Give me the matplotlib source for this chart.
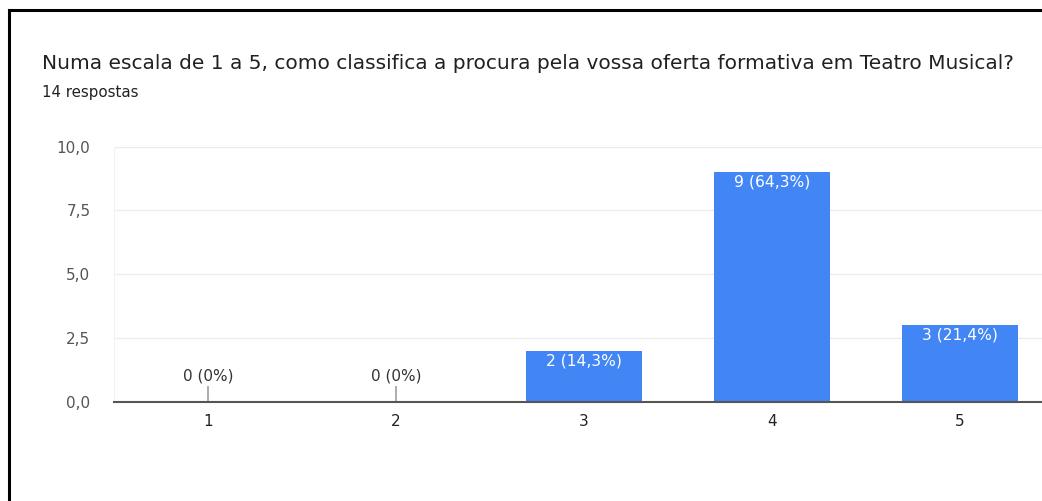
import matplotlib
matplotlib.use('Agg')
import matplotlib.pyplot as plt
from matplotlib.lines import Line2D

# survey answers (scale 1..5)
categories = ['1', '2', '3', '4', '5']
counts = [0, 0, 2, 9, 3]
yticks = [0.0, 2.5, 5.0, 7.5, 10.0]
ytick_labels = ['0,0', '2,5', '5,0', '7,5', '10,0']
title = 'Numa escala de 1 a 5, como classifica a procura pela vossa oferta formativa em Teatro Musical?'
subtitle = '14 respostas'

plt.rcParams['font.family'] = ['DejaVu Sans']

W, H = 1042, 501
fig = plt.figure(figsize=(W / 100, H / 100), dpi=100)
fig.patch.set_facecolor('white')

# axes placed in pixel terms; right side runs past the image edge like the screenshot
left, right = 114, 1054
bottom, top = 401.7, 146.7
ax = fig.add_axes([left / W, (H - bottom) / H, (right - left) / W, (bottom - top) / H])

total = sum(counts)
xs = list(range(1, len(categories) + 1))
ax.bar(xs, counts, width=0.62, color='#4285f4', zorder=3)

for x, c in zip(xs, counts):
    pct = 100.0 * c / total
    if c == 0:
        lab = '%d (0%%)' % c
        ax.vlines(x, 0, 0.62, color='#9e9e9e', lw=1.2, zorder=3)
        ax.annotate(lab, (x, 0.62), xytext=(0, 1.5), textcoords='offset points',
                    ha='center', va='bottom', fontsize=11, color='#333333')
    else:
        lab = '%d (%s%%)' % (c, ('%.1f' % pct).replace('.', ','))
        ax.annotate(lab, (x, c), xytext=(0, -2), textcoords='offset points',
                    ha='center', va='top', fontsize=11.2, color='white', zorder=4)

ax.set_xlim(0.5, 5.5)
ax.set_ylim(0, 10)
ax.set_xticks(xs)
ax.set_xticklabels(categories, fontsize=11, color='#222222')
ax.set_yticks(yticks)
ax.set_yticklabels(ytick_labels, fontsize=11, color='#555555')
ax.tick_params(axis='both', length=0)
ax.tick_params(axis='x', pad=9)
ax.tick_params(axis='y', pad=17)
ax.grid(axis='y', color='#ececec', lw=1, zorder=0)
for s in ['top', 'right']:
    ax.spines[s].set_visible(False)
ax.spines['left'].set_color('#f2f2f2')
ax.spines['bottom'].set_color('#555555')
ax.spines['bottom'].set_linewidth(1.5)
ax.spines['bottom'].set_zorder(5)

fig.text(42 / W, (H - 69) / H, title, fontsize=14.5, color='#202124', va='baseline', ha='left')
fig.text(42 / W, (H - 97.3) / H, subtitle, fontsize=10.8, color='#202124', va='baseline', ha='left')

# black frame from the screenshot (open at right and bottom)
fx, fy = 8.8 / W, (H - 10) / H
fig.add_artist(Line2D([fx, fx], [0, fy], transform=fig.transFigure, color='black', lw=2.2))
fig.add_artist(Line2D([fx, 1], [fy, fy], transform=fig.transFigure, color='black', lw=2.2))

fig.savefig('out.png', dpi=100, facecolor='white')
